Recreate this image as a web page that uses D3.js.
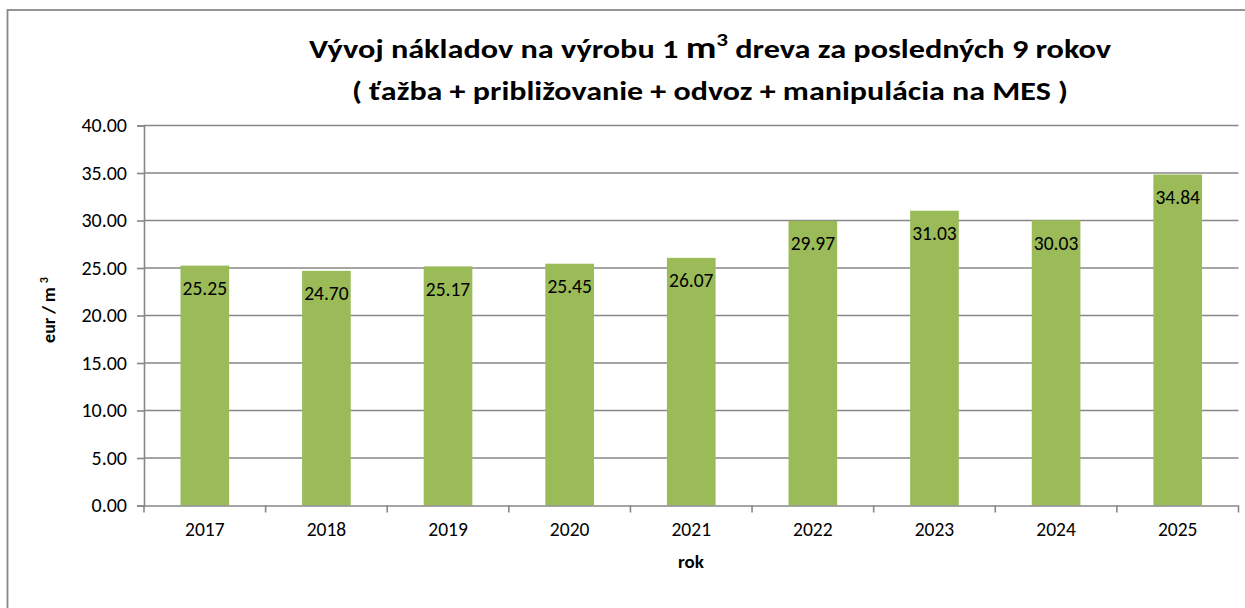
<!DOCTYPE html>
<html><head><meta charset="utf-8">
<script src="https://cdn.jsdelivr.net/npm/d3@7"></script>
<style>
body{margin:0;background:#fff;}
svg{display:block;}
text{font-family:Carlito, Calibri, Lato, "Open Sans", sans-serif;fill:#000;}
</style></head>
<body><svg id="c" width="1245" height="608"></svg>
<script>
const years = ["2017","2018","2019","2020","2021","2022","2023","2024","2025"];
const values = [25.25, 24.70, 25.17, 25.45, 26.07, 29.97, 31.03, 30.03, 34.84];
const yTicks = [0,5,10,15,20,25,30,35,40];
const titleLine1a = "Vývoj nákladov na výrobu 1 ";
const titleLine1b = " dreva za posledných 9 rokov";
const titleLine2 = "( ťažba + približovanie + odvoz + manipulácia na MES )";

(function(){
const svg = d3.select("#c");
const W=1245,H=608;
svg.append("rect").attr("x",0).attr("y",0).attr("width",W).attr("height",H).attr("fill","#fff");
svg.append("rect").attr("x",7.5).attr("y",10).attr("width",1300).attr("height",700)
  .attr("fill","none").attr("stroke","#898989").attr("stroke-width",1.8);

const pL=144, pR=1238.5, pT=125.5, pB=505.5;
const x = d3.scaleBand().domain(years).range([pL,pR]).paddingInner(0.6).paddingOuter(0.3);
const y = d3.scaleLinear().domain([0,40]).range([pB,pT]);

svg.append("g").selectAll("line").data(yTicks.filter(d=>d>0)).join("line")
  .attr("x1",pL).attr("x2",pR).attr("y1",d=>y(d)).attr("y2",d=>y(d))
  .attr("stroke","#878787").attr("stroke-width",1.6);

svg.append("g").selectAll("rect").data(values).join("rect")
  .attr("x",(d,i)=>x(years[i])).attr("width",x.bandwidth())
  .attr("y",d=>y(d)).attr("height",d=>pB-y(d)).attr("fill","#9BBB59");

const yAxis = d3.axisLeft(y).tickValues(yTicks).tickFormat(d3.format(".2f")).tickSize(7).tickPadding(10);
const gy = svg.append("g").attr("transform",`translate(${pL},0)`).call(yAxis);
gy.select(".domain").attr("stroke","#878787").attr("stroke-width",1.6);
gy.selectAll(".tick line").attr("stroke","#878787").attr("stroke-width",1.6);
gy.selectAll(".tick text").style("font-size","20px").attr("fill","#222");

const xAxis = d3.axisBottom(x).tickSize(0).tickPadding(17);
const gx = svg.append("g").attr("transform",`translate(0,${pB})`).call(xAxis);
gx.select(".domain").attr("stroke","#878787").attr("stroke-width",1.6);
gx.selectAll(".tick text").style("font-size","19.5px").attr("fill","#222");
const bounds = d3.range(years.length+1).map(i=>pL+i*(pR-pL)/years.length);
gx.selectAll("line.bt").data(bounds).join("line").attr("class","bt")
  .attr("x1",d=>d).attr("x2",d=>d).attr("y1",0).attr("y2",7)
  .attr("stroke","#878787").attr("stroke-width",1.6);

svg.append("g").selectAll("text").data(values).join("text")
  .attr("x",(d,i)=>x(years[i])+x.bandwidth()/2).attr("y",d=>y(d)+29.5)
  .attr("text-anchor","middle").style("font-size","19.5px").attr("fill","#111")
  .text(d=>d3.format(".2f")(d));

const t1 = svg.append("text").attr("x",710).attr("y",58).attr("text-anchor","middle")
  .style("font-size","26.5px").style("font-weight","bold")
  .attr("textLength",802).attr("lengthAdjust","spacingAndGlyphs");
t1.append("tspan").text(titleLine1a);
t1.append("tspan").style("font-size","31px").text("m");
t1.append("tspan").attr("dy",-12).style("font-size","19px").text("3");
t1.append("tspan").attr("dy",12).text(titleLine1b);
svg.append("text").attr("x",710).attr("y",100).attr("text-anchor","middle")
  .style("font-size","26.5px").style("font-weight","bold")
  .attr("textLength",716).attr("lengthAdjust","spacingAndGlyphs")
  .text(titleLine2);

svg.append("text").attr("x",691).attr("y",568).attr("text-anchor","middle")
  .style("font-size","19px").style("font-weight","bold").text("rok");
const yt = svg.append("text").attr("transform","translate(55,310) rotate(-90)").attr("text-anchor","middle")
  .style("font-size","18px").style("font-weight","bold");
yt.append("tspan").text("eur / m ");
yt.append("tspan").attr("dy",-7).style("font-size","12px").text("3");
})();
</script></body></html>
